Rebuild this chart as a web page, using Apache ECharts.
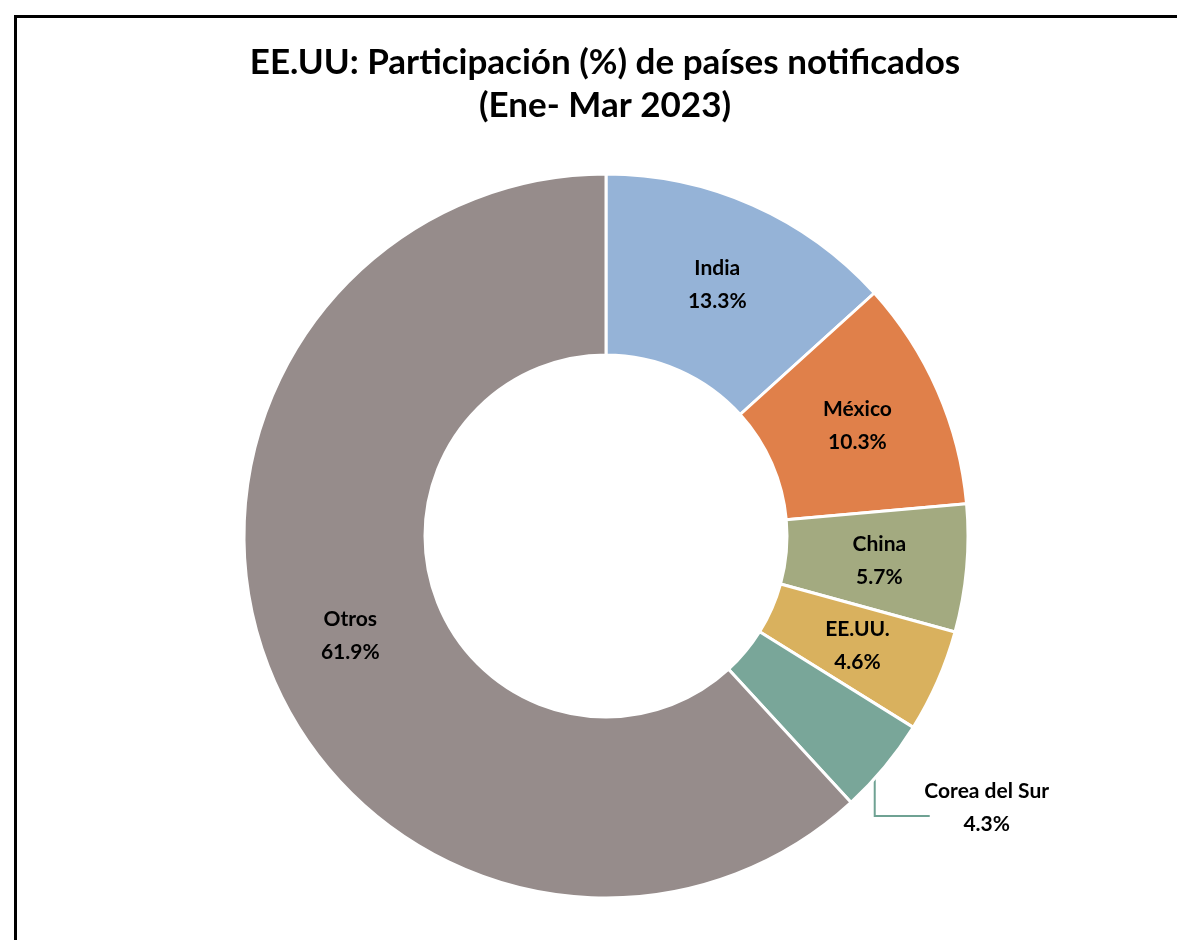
<!DOCTYPE html>
<html>
<head>
<meta charset="UTF-8">
<script src="https://cdn.jsdelivr.net/npm/echarts@6/dist/echarts.min.js"></script>
<title>Participación de países notificados</title>
<style>
html, body {
	margin: 0;
	padding: 0;
	background: #FFFFFF;
	overflow: hidden;
}

.frame {
	position: absolute;
	left: 14px;
	top: 15px;
	width: 1200px;
	height: 960px;
	border: 3px solid #000000;
	box-sizing: border-box;
}

#main {
	position: absolute;
	left: 0;
	top: 0;
	width: 1177px;
	height: 940px;
}
</style>
</head>
<body>
	<div class="frame"></div>
	<div id="main"></div>
	<script>
		var paises = [ 'India', 'México', 'China', 'EE.UU.', 'Corea del Sur', 'Otros' ];
		var participacion = [ 13.3, 10.3, 5.7, 4.6, 4.3, 61.9 ];
		var colores = [ '#95B3D7', '#E0804A', '#A3AA80', '#D9B15E', '#79A699', '#968C8B' ];

		var labelFont = 'Lato, "Open Sans", sans-serif';

		var datos = paises.map(function(p, i) {
			var item = {
				name : p,
				value : participacion[i],
				itemStyle : { color : colores[i] }
			};
			// Corea del Sur lleva su etiqueta fuera, con línea guía
			if (p === 'Corea del Sur') {
				item.label = {
					position : 'outside',
					align : 'center'
				};
				item.labelLine = {
					show : true,
					lineStyle : { color : '#6FA293', width : 2 }
				};
			}
			return item;
		});

		var option = {
			animation : false,
			title : {
				text : 'EE.UU: Participación (%) de países notificados\n(Ene- Mar 2023)',
				left : 600,
				textAlign : 'center',
				top : 36,
				textStyle : {
					fontFamily : labelFont,
					fontWeight : 'bold',
					fontSize : 35,
					lineHeight : 43,
					color : '#000000'
				}
			},
			series : [ {
				type : 'pie',
				center : [ 606, 536 ],
				radius : [ 181, 362 ],
				startAngle : 90,
				clockwise : true,
				data : datos,
				itemStyle : {
					borderColor : '#FFFFFF',
					borderWidth : 3
				},
				label : {
					show : true,
					position : 'inside',
					formatter : function(p) {
						return p.name + '\n' + p.value.toFixed(1) + '%';
					},
					fontFamily : labelFont,
					fontWeight : 'bold',
					fontSize : 21,
					lineHeight : 33,
					color : '#000000'
				},
				labelLine : { show : false },
				labelLayout : function(params) {
					if (params.dataIndex !== 4 || !params.labelLinePoints) {
						return;
					}
					var p0 = params.labelLinePoints[0];
					var x0 = p0[0] - 10, y0 = p0[1] + 12;
					var codo = [ x0, y0 + 37 ];
					var fin = [ x0 + 55, y0 + 37 ];
					return {
						x : fin[0] + 57,
						y : fin[1] - 8,
						align : 'center',
						verticalAlign : 'middle',
						labelLinePoints : [ [ x0, y0 ], codo, fin ]
					};
				}
			} ]
		};

		var mychart = echarts.init(document.getElementById('main'));
		mychart.setOption(option);
	</script>
</body>
</html>
